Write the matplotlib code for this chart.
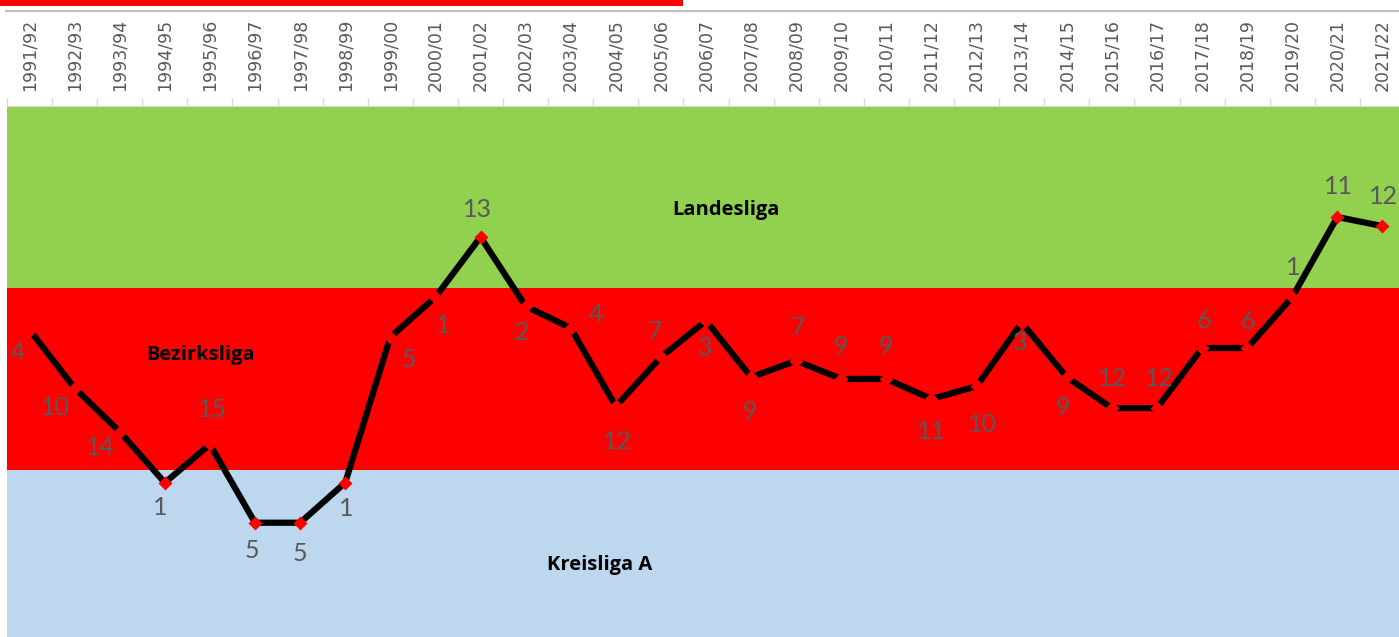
"""League history chart: placing per season, drawn over the three league bands."""
import matplotlib
matplotlib.use("Agg")
import matplotlib.pyplot as plt
from matplotlib.lines import Line2D
from matplotlib.patches import Rectangle
from matplotlib.ticker import FixedLocator
import numpy as np

SEASONS = ["1991/92", "1992/93", "1993/94", "1994/95", "1995/96", "1996/97", "1997/98",
           "1998/99", "1999/00", "2000/01", "2001/02", "2002/03", "2003/04", "2004/05",
           "2005/06", "2006/07", "2007/08", "2008/09", "2009/10", "2010/11", "2011/12",
           "2012/13", "2013/14", "2014/15", "2015/16", "2016/17", "2017/18", "2018/19",
           "2019/20", "2020/21", "2021/22"]
PLACES = [4, 10, 14, 1, 15, 5, 5, 1, 5, 1, 13, 2, 4, 12, 7, 3, 9, 7, 9, 9, 11, 10,
          3, 9, 12, 12, 6, 6, 1, 11, 12]
# height on the chart: 0..1 = Bezirksliga, 1..2 = Landesliga, below 0 = Kreisliga A
LEVEL = [0.77, 0.45, 0.21, -0.07, 0.14, -0.29, -0.29, -0.07, 0.73, 0.95, 1.28, 0.90,
         0.78, 0.35, 0.62, 0.82, 0.51, 0.60, 0.50, 0.50, 0.39, 0.46, 0.81, 0.51,
         0.34, 0.34, 0.67, 0.67, 0.95, 1.39, 1.34]
LEAGUES = ["Kreisliga A", "Bezirksliga", "Landesliga"]
BANDS = [(-1.0, 0.0), (0.0, 1.0), (1.0, 2.0)]

# styling
BAND_COLORS = ["#BDD7EE", "#FF0000", "#92D050"]
BAND_TEXT_POS = [(12.65, -0.52), (3.78, 0.63), (15.45, 1.43)]
# label offsets in pixels (dx, dy up)
LABEL_OFFS = [(-12, -23), (-19, -19), (-19, -16), (-5, -25), (3, 35), (-3, -28), (0, -31),
              (1, -26), (19, -22), (8, -28), (-3, 28), (-3, -26), (25, 14), (2, -35),
              (-6, 26), (-1, -27), (-1, -34), (2, 33), (0, 32), (0, 32), (0, -33),
              (6, -38), (-1, -20), (-4, -30), (1, 30), (2, 30), (2, 28), (1, 27),
              (1, 30), (1, 31), (1, 30)]

W, H = 1399, 637
fig = plt.figure(figsize=(W / 100, H / 100), dpi=100)
ax = fig.add_axes([7 / W, 0, 1398 / W, 531 / H])

x = np.arange(len(SEASONS))
for (lo, hi), c in zip(BANDS, BAND_COLORS):
    ax.axhspan(lo, hi, color=c, lw=0, zorder=0)
for name, (tx, ty) in zip(LEAGUES, BAND_TEXT_POS):
    ax.text(tx, ty, name, ha="center", va="center", fontsize=14.5,
            fontweight="bold", family="Open Sans", color="black", zorder=2)

ax.plot(x, LEVEL, color="black", lw=4.5, zorder=3, solid_capstyle="butt")
ax.plot(x, LEVEL, ls="none", marker="D", ms=7, mfc="#FF0000", mec="none", zorder=4)
for xi, yi, p, (dx, dy) in zip(x, LEVEL, PLACES, LABEL_OFFS):
    ax.annotate(str(p), (xi, yi), xytext=(dx, dy), textcoords="offset pixels",
                ha="center", va="center", fontsize=18, family="Lato",
                color="#595959", zorder=5)

ax.set_xlim(-0.5, len(SEASONS) - 0.5)
ax.set_ylim(-0.918, 2.0)
ax.set_yticks([])
ax.xaxis.tick_top()
ax.set_xticks(x)
ax.set_xticklabels(SEASONS, rotation=90, fontsize=12.5, color="#595959")
ax.xaxis.set_minor_locator(FixedLocator(np.arange(-0.5, len(SEASONS), 1.0)))
ax.tick_params(axis="x", which="major", length=0, pad=11)
ax.tick_params(axis="x", which="minor", top=True, bottom=False, length=6,
               width=1, color="#d9d9d9")
for s in ["bottom", "right", "left"]:
    ax.spines[s].set_visible(False)
ax.spines["top"].set_color("#d9d9d9")
ax.spines["top"].set_linewidth(0.8)

# table rule above the season labels and the red bar at the very top
fig.add_artist(Line2D([6 / W, 1], [1 - 11 / H, 1 - 11 / H], transform=fig.transFigure,
                      color="#c0c0c0", lw=1.6))
fig.add_artist(Rectangle((0, 1 - 5.5 / H), 683 / W, 5.5 / H, transform=fig.transFigure,
                         color="#FF0000", lw=0))

fig.savefig("out.png", dpi=100)
